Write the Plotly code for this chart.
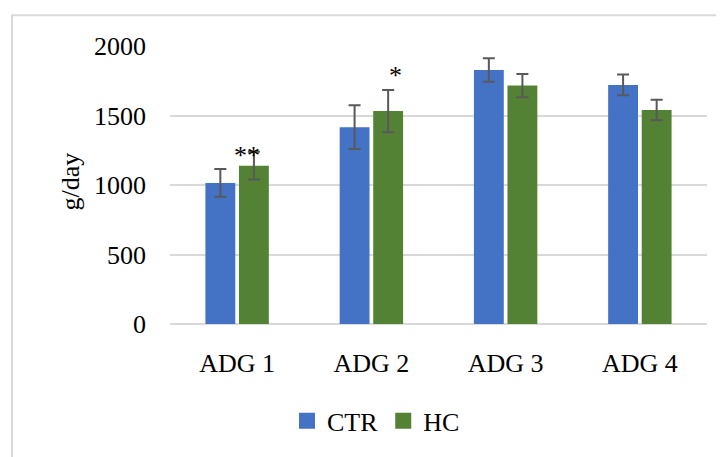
import plotly.graph_objects as go

categories = ["ADG 1", "ADG 2", "ADG 3", "ADG 4"]
ctr_values = [1015, 1416, 1827, 1720]
ctr_errors = [100, 157, 84, 75]
hc_values = [1139, 1532, 1715, 1540]
hc_errors = [100, 152, 83, 74]
y_ticks = [0, 500, 1000, 1500, 2000]
sig_labels = [("ADG 1", 1215, "**", 10), ("ADG 2", 1790, "*", 24)]

FONT = "Liberation Serif"
FS = 26
BLUE = "#4472C4"
GREEN = "#548235"

fig = go.Figure()
fig.add_trace(go.Bar(
    name="CTR", x=categories, y=ctr_values, showlegend=False,
    marker=dict(color=BLUE, line=dict(width=0)),
    error_y=dict(type="data", array=ctr_errors, color="#595959", thickness=2, width=6),
))
fig.add_trace(go.Bar(
    name="HC", x=categories, y=hc_values, showlegend=False,
    marker=dict(color=GREEN, line=dict(width=0)),
    error_y=dict(type="data", array=hc_errors, color="#595959", thickness=2, width=6),
))
# legend proxies
for nm, col in (("CTR", BLUE), ("HC", GREEN)):
    fig.add_trace(go.Scatter(name=nm, x=[None], y=[None], mode="markers",
                             marker=dict(symbol="square", size=16, color=col)))

for cat, yv, txt, shift in sig_labels:
    fig.add_annotation(x=cat, y=yv, text=txt, showarrow=False, xshift=shift,
                       font=dict(family=FONT, size=FS, color="black"))

fig.add_annotation(xref="paper", yref="paper", x=(71 - 170) / 537, y=(327 - 183) / 281,
                   text="g/day", textangle=-90, showarrow=False,
                   xanchor="center", yanchor="middle",
                   font=dict(family=FONT, size=FS, color="black"))

fig.add_shape(type="rect", xref="paper", yref="paper",
              x0=(12 - 170) / 537, y0=-0.5, x1=1.1, y1=(327 - 15) / 281,
              line=dict(color="#d9d9d9", width=2), layer="below")

fig.update_layout(
    width=716, height=449,
    margin=dict(l=162, r=17, t=38, b=130),
    paper_bgcolor="white", plot_bgcolor="white",
    barmode="group", bargap=0.5, bargroupgap=0.11,
    font=dict(family=FONT, size=FS, color="black"),
    showlegend=True,
    legend=dict(orientation="h", x=(376 - 170) / 537, xanchor="center",
                y=(327 - 425) / 281, yanchor="middle",
                font=dict(family=FONT, size=FS), itemwidth=30, traceorder="normal",
                itemsizing="trace"),
    xaxis=dict(showgrid=False, showline=False, ticks="", ticklabelstandoff=21),
    yaxis=dict(range=[0, 2000], tickvals=y_ticks, showgrid=True, gridcolor="#d9d9d9",
               gridwidth=2, zeroline=True, zerolinecolor="#d9d9d9", zerolinewidth=2,
               showline=False, ticks="", ticklabelstandoff=23, fixedrange=True),
)

fig.write_html("out.html")
